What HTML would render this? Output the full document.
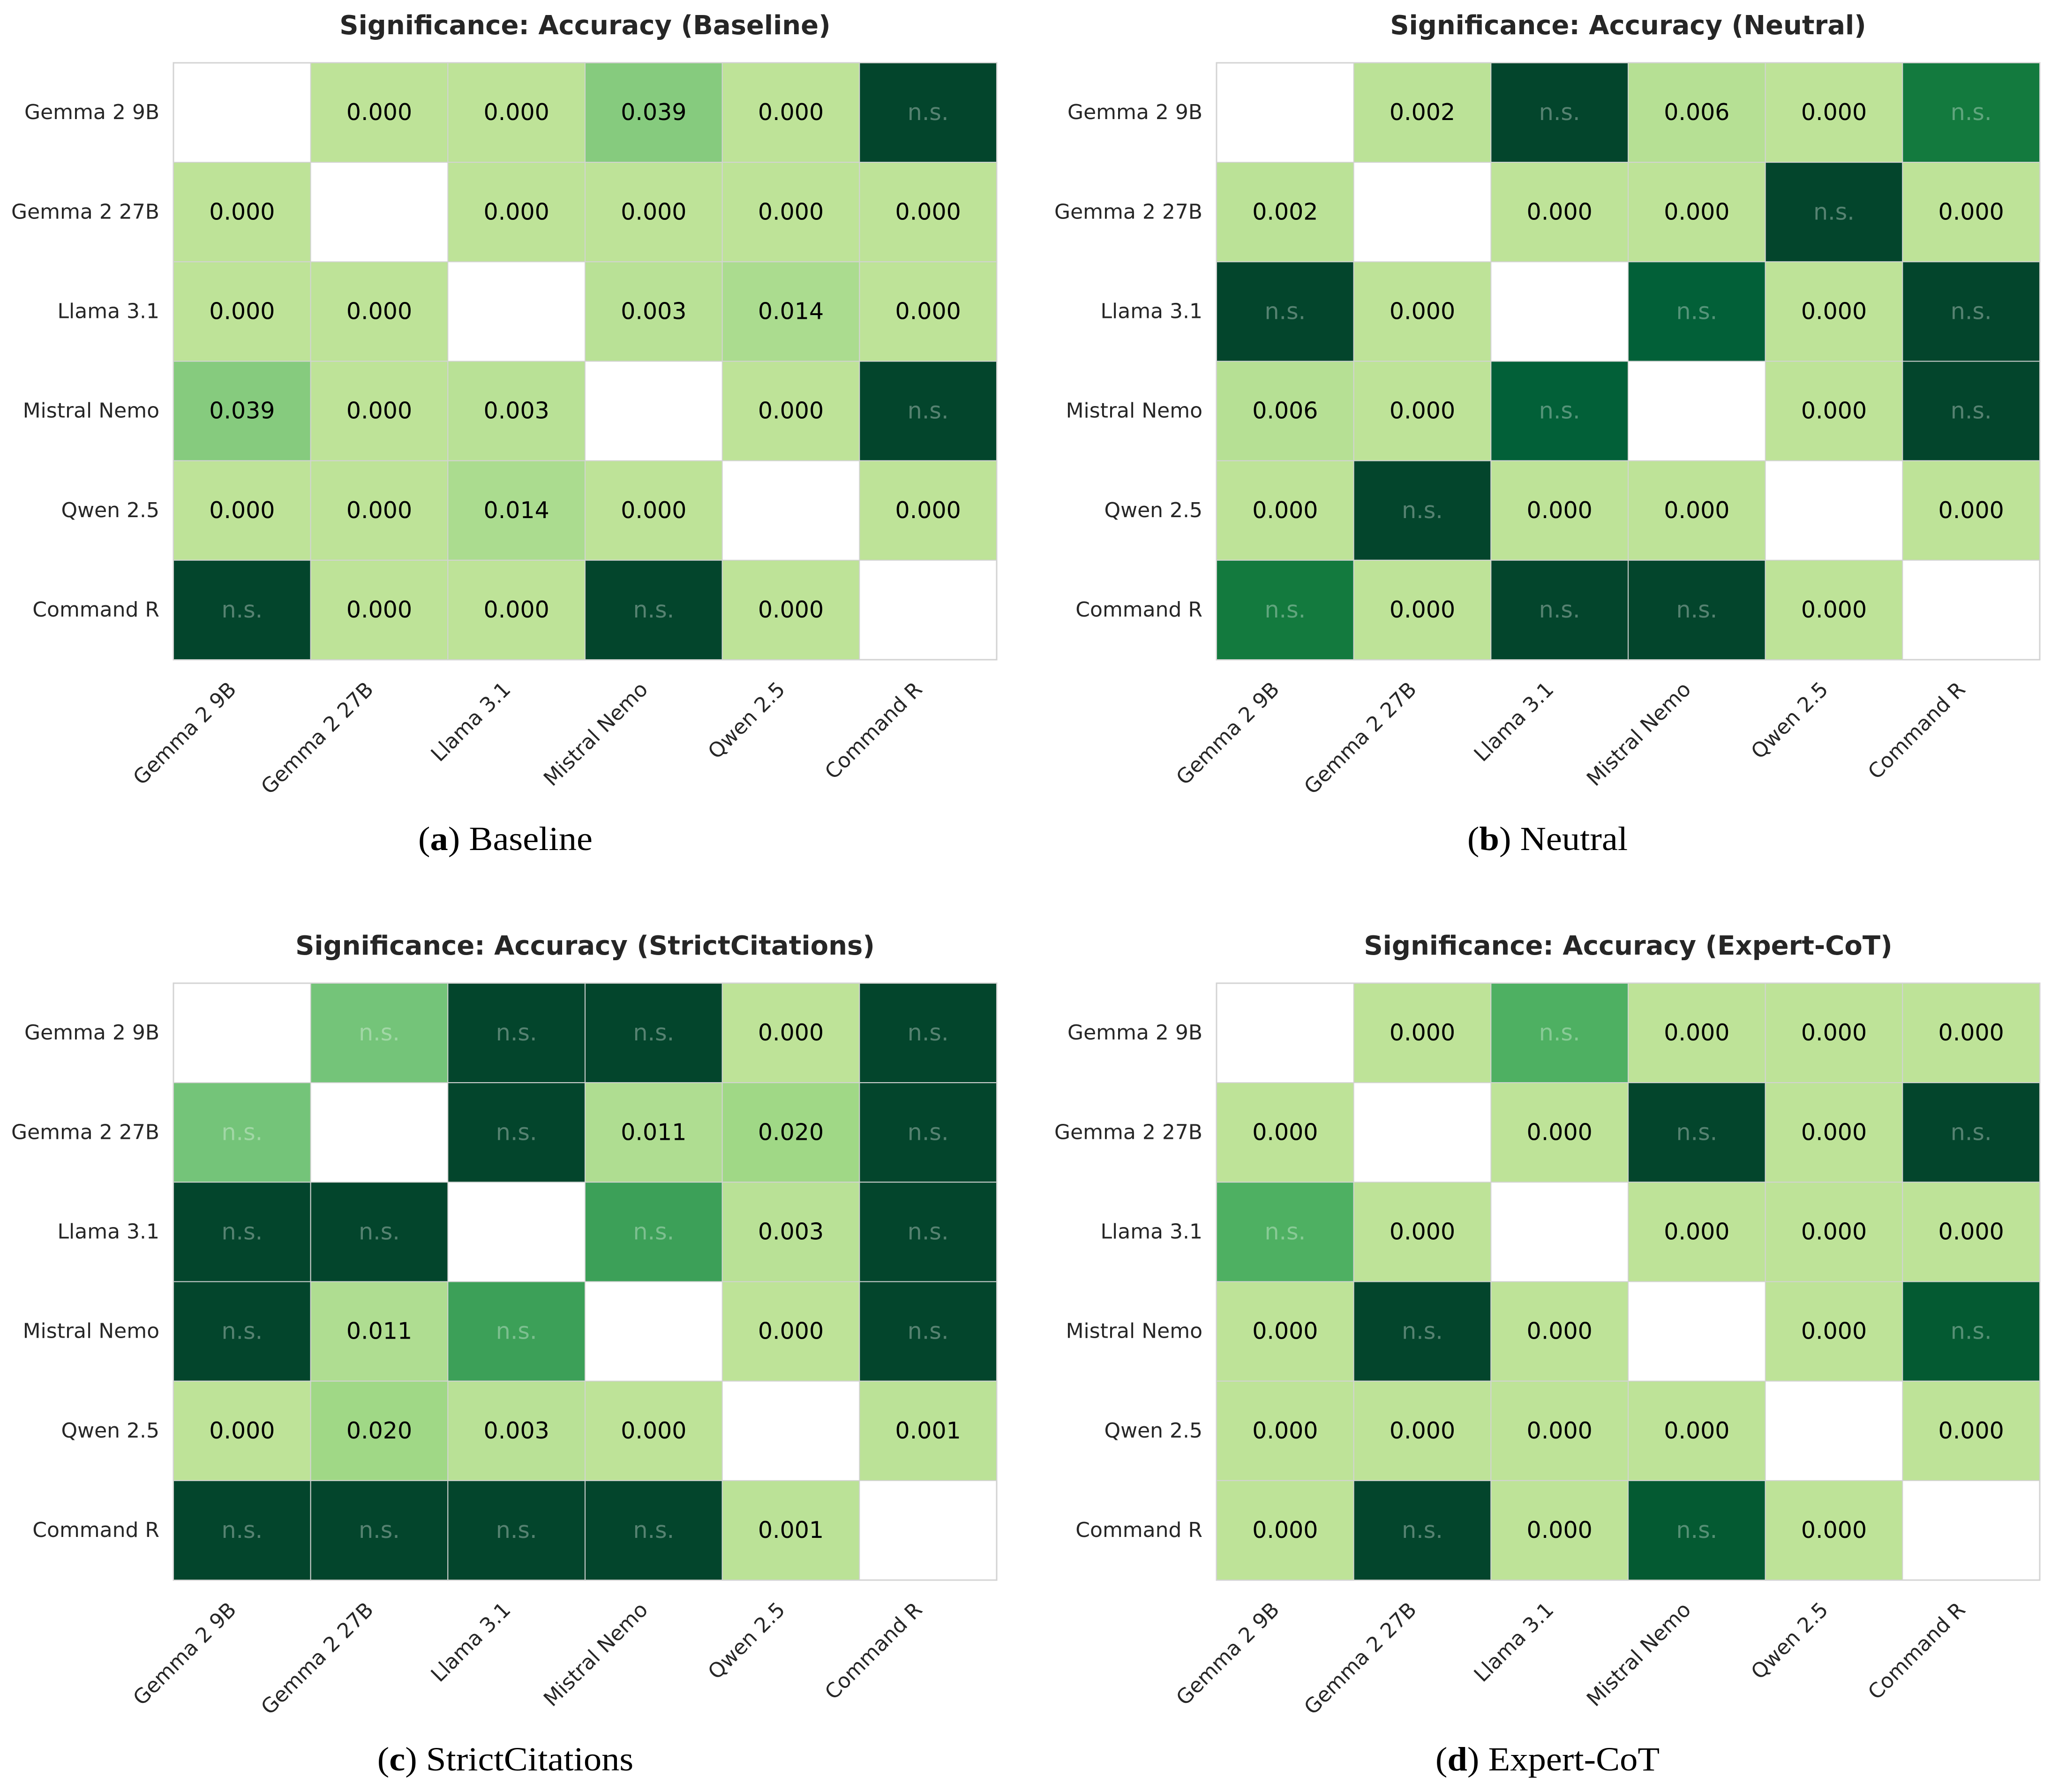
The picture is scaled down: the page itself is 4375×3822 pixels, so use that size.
<!DOCTYPE html>
<html>
<head>
<meta charset="utf-8">
<style>
  html, body { margin: 0; padding: 0; background: #ffffff; }
  svg { display: block; }
</style>
</head>
<body>
<svg id="fig" xmlns="http://www.w3.org/2000/svg" width="4375" height="3822" viewBox="0 0 4375 3822">
  <rect x="0" y="0" width="4375" height="3822" fill="#ffffff"></rect>
</svg>
<script>
// ---------- Data ----------
const models = ["Gemma 2 9B", "Gemma 2 27B", "Llama 3.1", "Mistral Nemo", "Qwen 2.5", "Command R"];
const panelTitles = ["Significance: Accuracy (Baseline)", "Significance: Accuracy (Neutral)", "Significance: Accuracy (StrictCitations)", "Significance: Accuracy (Expert-CoT)"];
const captionLetters = ["a", "b", "c", "d"];
const captionNames = ["Baseline", "Neutral", "StrictCitations", "Expert-CoT"];

// p-values (null = n.s., "diag" = diagonal blank)
const D = "diag";
const pvalsBaseline = [
  [D, "0.000", "0.000", "0.039", "0.000", null],
  ["0.000", D, "0.000", "0.000", "0.000", "0.000"],
  ["0.000", "0.000", D, "0.003", "0.014", "0.000"],
  ["0.039", "0.000", "0.003", D, "0.000", null],
  ["0.000", "0.000", "0.014", "0.000", D, "0.000"],
  [null, "0.000", "0.000", null, "0.000", D]
];
const pvalsNeutral = [
  [D, "0.002", null, "0.006", "0.000", null],
  ["0.002", D, "0.000", "0.000", null, "0.000"],
  [null, "0.000", D, null, "0.000", null],
  ["0.006", "0.000", null, D, "0.000", null],
  ["0.000", null, "0.000", "0.000", D, "0.000"],
  [null, "0.000", null, null, "0.000", D]
];
const pvalsStrict = [
  [D, null, null, null, "0.000", null],
  [null, D, null, "0.011", "0.020", null],
  [null, null, D, null, "0.003", null],
  [null, "0.011", null, D, "0.000", null],
  ["0.000", "0.020", "0.003", "0.000", D, "0.001"],
  [null, null, null, null, "0.001", D]
];
const pvalsExpert = [
  [D, "0.000", null, "0.000", "0.000", "0.000"],
  ["0.000", D, "0.000", null, "0.000", null],
  [null, "0.000", D, "0.000", "0.000", "0.000"],
  ["0.000", null, "0.000", D, "0.000", null],
  ["0.000", "0.000", "0.000", "0.000", D, "0.000"],
  ["0.000", null, "0.000", null, "0.000", D]
];

// colour intensity (0 = lightest, 1 = darkest)
const shadeBaseline = [
  [0, 0.0, 0.0, 0.45, 0.0, 1],
  [0.0, 0, 0.0, 0.0, 0.0, 0.0],
  [0.0, 0.0, 0, 0.04, 0.15, 0.0],
  [0.45, 0.0, 0.04, 0, 0.0, 1],
  [0.0, 0.0, 0.15, 0.0, 0, 0.0],
  [1, 0.0, 0.0, 1, 0.0, 0]
];
const shadeNeutral = [
  [0, 0.02, 1, 0.06, 0.0, 0.8],
  [0.02, 0, 0.0, 0.0, 1, 0.0],
  [1, 0.0, 0, 0.9, 0.0, 1],
  [0.06, 0.0, 0.9, 0, 0.0, 1],
  [0.0, 1, 0.0, 0.0, 0, 0.0],
  [0.8, 0.0, 1, 1, 0.0, 0]
];
const shadeStrict = [
  [0, 0.5, 1, 1, 0.0, 1],
  [0.5, 0, 1, 0.12, 0.3, 1],
  [1, 1, 0, 0.68, 0.04, 1],
  [1, 0.12, 0.68, 0, 0.0, 1],
  [0.0, 0.3, 0.04, 0.0, 0, 0.02],
  [1, 1, 1, 1, 0.02, 0]
];
const shadeExpert = [
  [0, 0.0, 0.62, 0.0, 0.0, 0.0],
  [0.0, 0, 0.0, 1, 0.0, 1],
  [0.62, 0.0, 0, 0.0, 0.0, 0.0],
  [0.0, 1, 0.0, 0, 0.0, 0.93],
  [0.0, 0.0, 0.0, 0.0, 0, 0.0],
  [0.0, 1, 0.0, 0.93, 0.0, 0]
];

const pvalSets = [pvalsBaseline, pvalsNeutral, pvalsStrict, pvalsExpert];
const shadeSets = [shadeBaseline, shadeNeutral, shadeStrict, shadeExpert];

// ---------- Layout ----------
const NS = "http://www.w3.org/2000/svg";
const svg = document.getElementById("fig");
const HM_W = 1756, HM_H = 1273;
const origins = [[370, 134], [2595, 134], [370, 2097], [2595, 2097]];
const captionCx = [1078, 3301, 1078, 3301];

const cmapStops = [
  [0.00, [190, 227, 152]],
  [0.15, [171, 220, 143]],
  [0.30, [160, 216, 134]],
  [0.45, [134, 203, 126]],
  [0.50, [116, 196, 121]],
  [0.62, [78, 176, 98]],
  [0.68, [60, 160, 88]],
  [0.80, [19, 122, 62]],
  [0.90, [2, 96, 56]],
  [0.93, [4, 90, 50]],
  [1.00, [3, 69, 44]]
];
function cmap(t) {
  t = Math.max(0, Math.min(1, t));
  for (let i = 1; i < cmapStops.length; i++) {
    if (t <= cmapStops[i][0]) {
      const a = cmapStops[i - 1], b = cmapStops[i];
      const f = (t - a[0]) / (b[0] - a[0]);
      const c = a[1].map((v, k) => Math.round(v + (b[1][k] - v) * f));
      return "rgb(" + c.join(",") + ")";
    }
  }
  return "rgb(3,69,44)";
}

function mk(tag, attrs, parent) {
  const el = document.createElementNS(NS, tag);
  for (const k in attrs) el.setAttribute(k, attrs[k]);
  (parent || svg).appendChild(el);
  return el;
}

let capScale = null;

for (let p = 0; p < 4; p++) {
  const [ox, oy] = origins[p];
  const n = models.length;
  const cw = HM_W / n, ch = HM_H / n;
  const xScale = j => ox + j * cw;
  const yScale = i => oy + i * ch;

  const g = mk("g", {});
  
  

  const title = mk("text", {
    x: ox + HM_W / 2, y: oy - 61, "text-anchor": "middle",
    "font-family": "DejaVu Sans, Liberation Sans, sans-serif", "font-weight": "bold",
    "font-size": "56", fill: "#262626"
  }, g);
  title.textContent = panelTitles[p];
  
  

  const frame = mk("rect", { x: ox, y: oy, width: HM_W, height: HM_H, fill: "#ffffff", stroke: "#d3d3d3", "stroke-width": "3" }, g);
  
  

  const pv = pvalSets[p], sh = shadeSets[p];
  for (let i = 0; i < n; i++) {
    for (let j = 0; j < n; j++) {
      const val = pv[i][j];
      if (val === D) continue;
      const cell = mk("rect", {
        x: xScale(j), y: yScale(i), width: cw, height: ch,
        fill: cmap(sh[i][j]), stroke: "#d3d3d3", "stroke-width": "2"
      }, g);
      
      

      const isNS = (val === null);
      const t = mk("text", {
        x: xScale(j) + cw / 2, y: yScale(i) + ch / 2 + 16, "text-anchor": "middle",
        "font-family": "DejaVu Sans, Liberation Sans, sans-serif", "font-size": "49",
        fill: isNS ? "#ffffff" : "#000000", "fill-opacity": isNS ? "0.33" : "1"
      }, g);
      t.textContent = isNS ? "n.s." : val;
      
      
    }
  }

  for (let i = 0; i < n; i++) {
    const t = mk("text", {
      x: ox - 30, y: yScale(i) + ch / 2 + 14, "text-anchor": "end",
      "font-family": "DejaVu Sans, Liberation Sans, sans-serif", "font-size": "44", fill: "#262626"
    }, g);
    t.textContent = models[i];
    
    
  }
  for (let j = 0; j < n; j++) {
    const ax = xScale(j) + cw / 2 - 10, ay = oy + HM_H + 66;
    const t = mk("text", {
      x: ax, y: ay, "text-anchor": "end", transform: "rotate(-45 " + ax + " " + ay + ")",
      "font-family": "DejaVu Sans, Liberation Sans, sans-serif", "font-size": "44", fill: "#262626"
    }, g);
    t.textContent = models[j];
    
    
  }

  const cap = mk("text", {
    x: captionCx[p], y: oy + 1679, "text-anchor": "middle",
    "font-family": "Liberation Serif, DejaVu Serif, serif", "font-size": "72", fill: "#000000"
  }, g);
  
  
  const s1 = mk("tspan", {}, cap); s1.textContent = "(";
  const s2 = mk("tspan", { "font-weight": "bold" }, cap); s2.textContent = captionLetters[p];
  const s3 = mk("tspan", {}, cap); s3.textContent = ") " + captionNames[p];
  const cwid = cap.getComputedTextLength();
  if (cwid > 0) {
    if (capScale === null) capScale = 372 / cwid;
    cap.setAttribute("textLength", (cwid * capScale).toFixed(1));
    cap.setAttribute("lengthAdjust", "spacingAndGlyphs");
  }
}
</script>
</body>
</html>
